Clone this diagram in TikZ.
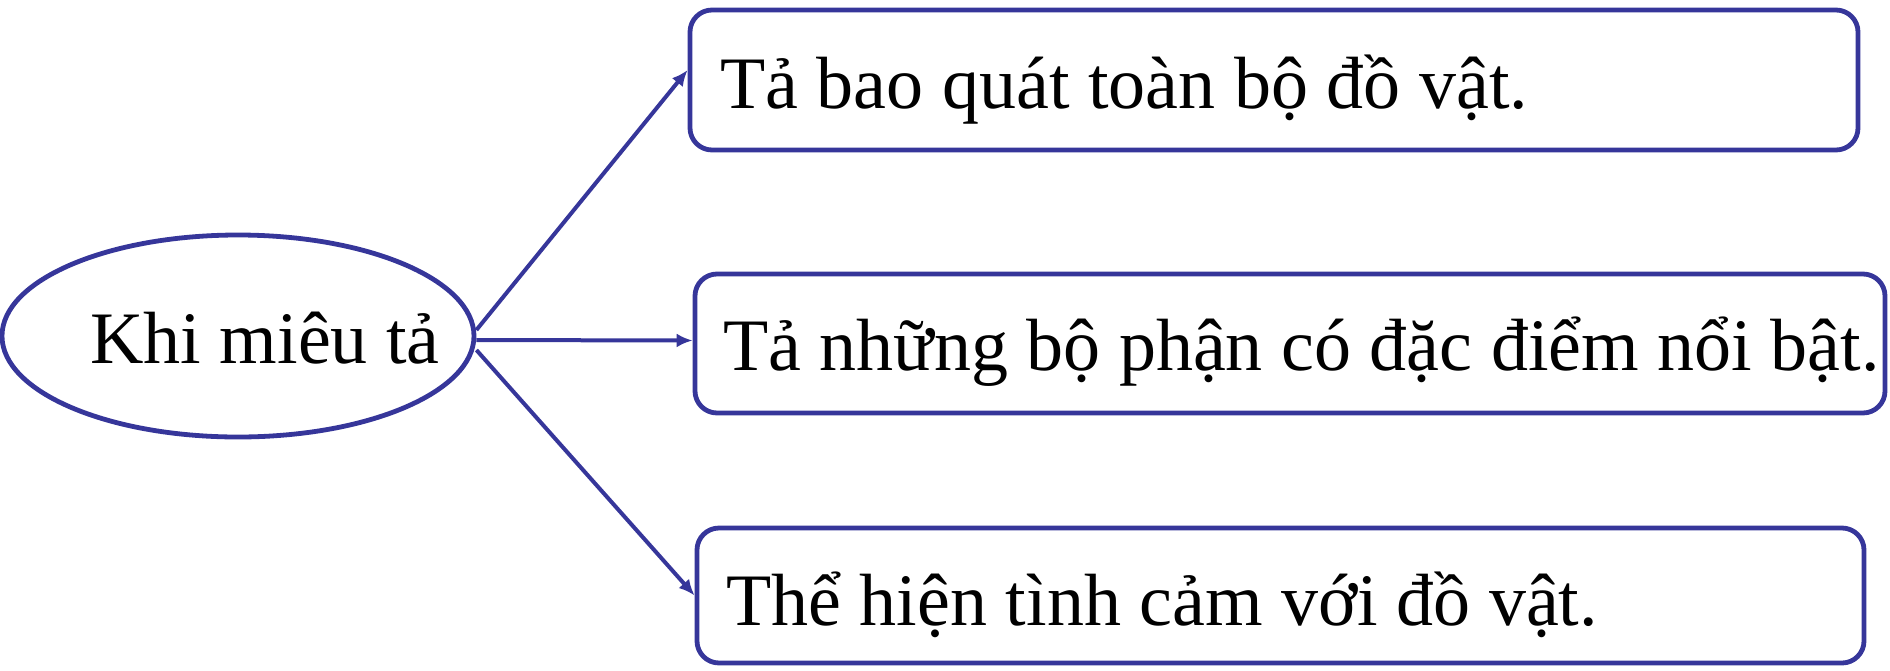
\documentclass[tikz,border=0pt]{standalone}
\usepackage{fontspec}
\setmainfont{Liberation Serif}
\usetikzlibrary{shapes.geometric,arrows.meta}
\definecolor{navy}{RGB}{54,54,154}
\tikzset{
  boxshape/.style={draw=navy, line width=2.4pt, rounded corners=11pt, inner sep=0pt, fill=white},
  ovalshape/.style={draw=navy, line width=2.4pt, ellipse, inner sep=0pt},
  txt/.style={anchor=base west, inner sep=0pt, font=\fontsize{37}{44}\selectfont},
  link/.style={draw=navy, line width=2pt, -{Latex[length=8pt,width=7pt]}}
}
\begin{document}
\begin{tikzpicture}[x=0.5pt,y=-0.5pt]
\useasboundingbox (0,0) rectangle (1890,670);
\node[ovalshape, minimum width=236pt, minimum height=101pt] (e) at (238,336) {};
\node[txt] (te) at (90,363) {Khi miêu tả};
\node[boxshape, minimum width=584pt, minimum height=70pt] (b1) at (1274,80) {};
\node[boxshape, minimum width=595pt, minimum height=69.5pt] (b2) at (1290,343.5) {};
\node[boxshape, minimum width=583.5pt, minimum height=67.5pt] (b3) at (1280.5,595.5) {};
\node[txt] (t1) at (720,108) {Tả bao quát toàn bộ đồ vật.};
\node[txt] (t2) at (723,370) {Tả những bộ phận có đặc điểm nổi bật.};
\node[txt] (t3) at (726,625) {Thể hiện tình cảm với đồ vật.};
\draw[link] ([yshift=3pt]e.east) -- ([yshift=5pt]b1.west);
\draw[link] ([yshift=-2pt]e.east) -- ([yshift=1.5pt]b2.west);
\draw[link] ([yshift=-7pt]e.east) -- (b3.west);
\end{tikzpicture}
\end{document}
